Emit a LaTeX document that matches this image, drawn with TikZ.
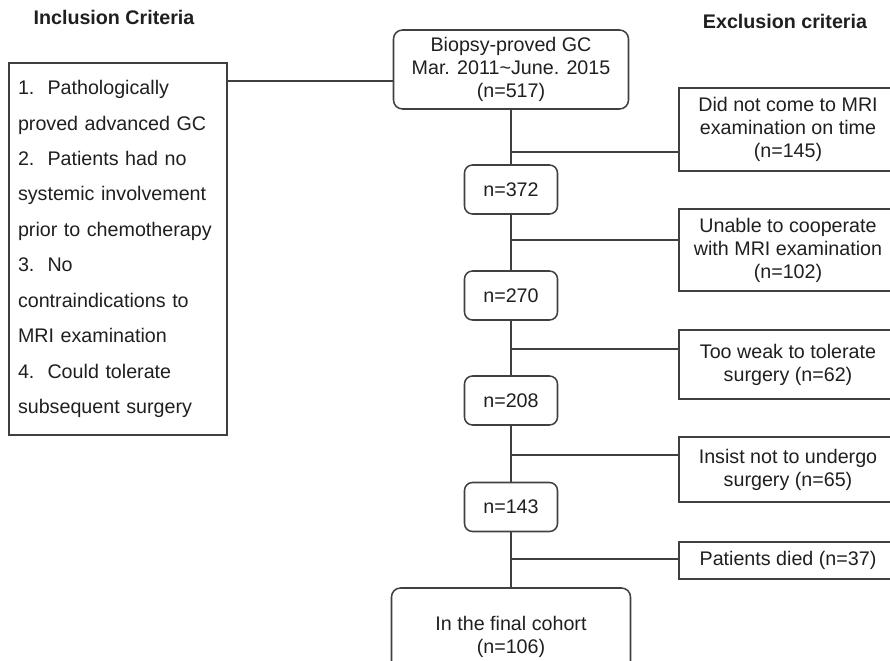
\documentclass[tikz,border=0pt]{standalone}
\usepackage{fontspec}
\setmainfont{Liberation Sans}
\usetikzlibrary{positioning}

\newlength\px
\setlength\px{0.025cm}

\tikzset{
	flowline/.style={draw=black!75, line width=1.1pt},
	countbox/.style={flowline, rounded corners=8\px, minimum width=93\px, minimum height=49\px, inner sep=0pt, align=center},
	bigbox/.style={flowline, rounded corners=9\px, inner sep=0pt, align=center},
	exbox/.style={flowline, minimum width=218\px, inner sep=0pt, align=center},
	heading/.style={font=\fontsize{14}{16}\selectfont\bfseries},
}

\begin{document}
\begin{tikzpicture}[x=0.025cm, y=-0.025cm, font=\fontsize{14}{16.3}\selectfont, text=black!88]
	\clip (0,0) rectangle (890,661);

	\node[heading] (inctitle) at (114,17) {Inclusion Criteria};
	\node[heading] (exctitle) at (785,21) {Exclusion criteria};

	% inclusion list
	\node[flowline, minimum width=218\px, minimum height=372\px, text width=200\px, inner xsep=9\px, inner ysep=0pt, align=left,
		font=\fontsize{14}{25.2}\selectfont] (inc) at (118,249)
		{1.\ \ Pathologically\\ proved advanced GC\\ 2.\ \ Patients had no\\ systemic involvement\\ prior to chemotherapy\\
		 3.\ \ No\\ contraindications to\\ MRI examination\\ 4.\ \ Could tolerate\\ subsequent surgery};

	% main column
	\node[bigbox, minimum width=235\px, minimum height=79\px] (start) at (511,69.5) {Biopsy-proved GC\\ Mar. 2011\textasciitilde June. 2015\\ (n=517)};
	\node[countbox] (n372) at (511,189.5) {n=372};
	\node[countbox] (n270) at (511,295.5) {n=270};
	\node[countbox] (n208) at (511,400.5) {n=208};
	\node[countbox] (n143) at (511,507) {n=143};
	\node[bigbox, minimum width=239\px, minimum height=97\px] (final) at (511,636.5) {In the final cohort\\ (n=106)};

	% exclusion boxes
	\node[exbox, minimum height=83\px] (ex1) at (788,129.5) {Did not come to MRI\\ examination on time\\ (n=145)};
	\node[exbox, minimum height=82\px] (ex2) at (788,250) {Unable to cooperate\\ with MRI examination\\ (n=102)};
	\node[exbox, minimum height=69\px] (ex3) at (788,364.5) {Too weak to tolerate\\ surgery (n=62)};
	\node[exbox, minimum height=65\px] (ex4) at (788,469.5) {Insist not to undergo\\ surgery (n=65)};
	\node[exbox, minimum height=37\px] (ex5) at (788,560.5) {Patients died (n=37)};

	% connectors
	\coordinate (j0) at (227,81);
	\draw[flowline] (j0) -- (j0 -| start.west);

	\draw[flowline] (start.south) -- (n372.north);
	\draw[flowline] (n372.south) -- (n270.north);
	\draw[flowline] (n270.south) -- (n208.north);
	\draw[flowline] (n208.south) -- (n143.north);
	\draw[flowline] (n143.south) -- (final.north);

	\coordinate (b1) at (511,152);
	\coordinate (b2) at (511,240);
	\coordinate (b3) at (511,349);
	\coordinate (b4) at (511,455);
	\coordinate (b5) at (511,559);
	\draw[flowline] (b1) -- (b1 -| ex1.west);
	\draw[flowline] (b2) -- (b2 -| ex2.west);
	\draw[flowline] (b3) -- (b3 -| ex3.west);
	\draw[flowline] (b4) -- (b4 -| ex4.west);
	\draw[flowline] (b5) -- (b5 -| ex5.west);
\end{tikzpicture}
\end{document}
